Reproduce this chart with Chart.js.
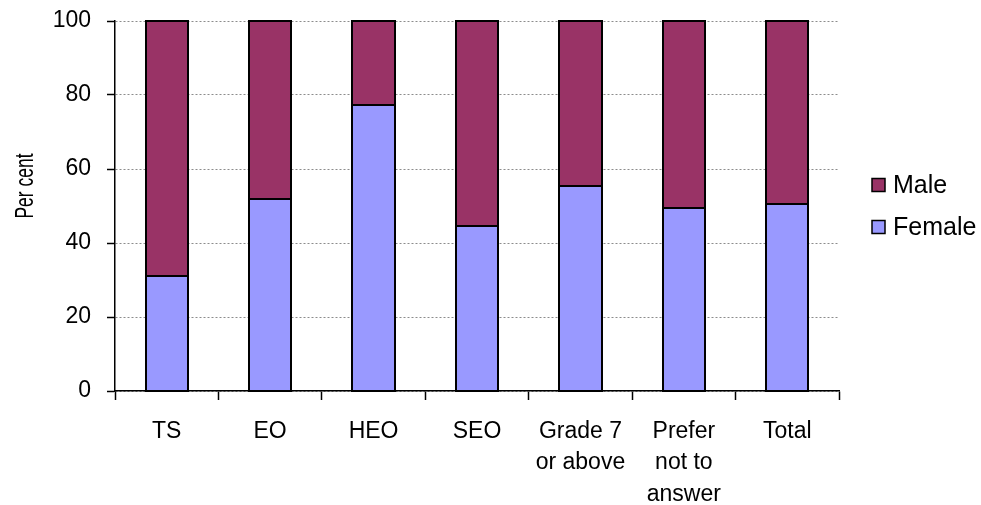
<!DOCTYPE html>
<html>
<head>
<meta charset="utf-8">
<script src="https://cdn.jsdelivr.net/npm/chart.js@4.4.0/dist/chart.umd.min.js"></script>
<style>
  html, body { margin: 0; padding: 0; background: #fff; }
  #wrap { width: 981px; height: 505px; position: relative; }
</style>
</head>
<body>
<div id="wrap"><canvas id="c"></canvas></div>
<script>
// Staff grade categories (multi-line labels as arrays)
const categories = ['TS', 'EO', 'HEO', 'SEO', ['Grade 7', 'or above'], ['Prefer', 'not to', 'answer'], 'Total'];
// Percentage of staff in each grade, by sex
const female = [31.1, 52.0, 77.4, 44.6, 55.4, 49.5, 50.5];
const male   = [68.9, 48.0, 22.6, 55.4, 44.6, 50.5, 49.5];
const seriesNames = ['Female', 'Male'];
const seriesColors = ['#9999FF', '#993366'];
const yTicks = [0, 20, 40, 60, 80, 100];
const yTitle = 'Per cent';

const FONT = '"Liberation Sans", Arial, sans-serif';
Chart.defaults.font.family = FONT;
Chart.defaults.color = '#000';

// Crisp black outline around every bar segment, taken from the bar elements
const barOutline = {
  id: 'barOutline',
  afterDatasetsDraw(chart) {
    const ctx = chart.ctx;
    ctx.save();
    ctx.strokeStyle = '#000';
    ctx.lineWidth = 2;
    chart.data.datasets.forEach((ds, i) => {
      chart.getDatasetMeta(i).data.forEach(bar => {
        const { x, y, base, width } = bar.getProps(['x', 'y', 'base', 'width'], true);
        const l = Math.round(x - width / 2), r = Math.round(x + width / 2);
        const t = Math.round(Math.min(y, base)), b = Math.round(Math.max(y, base));
        ctx.strokeRect(l, t, r - l, b - t);
      });
    });
    ctx.restore();
  }
};

// Legend to the right of the plot (Male above Female) and the rotated y-axis caption
const sideText = {
  id: 'sideText',
  afterDraw(chart) {
    const { ctx, chartArea } = chart;
    const mid = (chartArea.top + chartArea.bottom) / 2;
    const x = chartArea.right + 33;
    const order = [1, 0];
    ctx.save();
    ctx.font = '25px ' + FONT;
    ctx.textBaseline = 'middle';
    order.forEach((dsIndex, i) => {
      const ds = chart.data.datasets[dsIndex];
      const cy = mid - 21 + i * 42;
      ctx.fillStyle = ds.backgroundColor;
      ctx.fillRect(x, cy - 6.5, 13, 13);
      ctx.lineWidth = 1.5;
      ctx.strokeStyle = '#000';
      ctx.strokeRect(x, cy - 6.5, 13, 13);
      ctx.fillStyle = '#000';
      ctx.fillText(ds.label, x + 21, cy + 1);
    });
    // y-axis caption, condensed along its length
    ctx.translate(33, mid - 20);
    ctx.rotate(-Math.PI / 2);
    ctx.scale(0.7, 1);
    ctx.font = '25px ' + FONT;
    ctx.textAlign = 'center';
    ctx.textBaseline = 'alphabetic';
    ctx.fillText(yTitle, 0, 0);
    ctx.restore();
  }
};

const barStyle = {
  borderWidth: 0,
  categoryPercentage: 1,
  barPercentage: 0.41
};

new Chart(document.getElementById('c'), {
  type: 'bar',
  data: {
    labels: categories,
    datasets: [
      Object.assign({ label: seriesNames[0], data: female, backgroundColor: seriesColors[0] }, barStyle),
      Object.assign({ label: seriesNames[1], data: male, backgroundColor: seriesColors[1] }, barStyle)
    ]
  },
  options: {
    responsive: true,
    maintainAspectRatio: false,
    animation: false,
    layout: { padding: { top: 21, right: 142, bottom: 0, left: 0 } },
    plugins: { legend: { display: false }, tooltip: { enabled: false } },
    scales: {
      x: {
        stacked: true,
        afterFit: s => { s.height = 114; s.paddingLeft = 0; s.paddingRight = 0; },
        grid: {
          offset: true,
          drawOnChartArea: false,
          color: '#000',
          tickColor: '#000',
          tickLength: 9,
          tickWidth: 1.5
        },
        border: { color: '#000', width: 1.5 },
        ticks: {
          font: { size: 23, lineHeight: 1.36 },
          padding: 16,
          maxRotation: 0,
          autoSkip: false
        }
      },
      y: {
        stacked: true,
        min: 0,
        max: 100,
        afterFit: s => { s.width = 115; s.paddingTop = 0; s.paddingBottom = 0; },
        afterBuildTicks: s => { s.ticks = yTicks.map(v => ({ value: v })); },
        grid: {
          color: '#8c8c8c',
          lineWidth: 1,
          tickColor: '#000',
          tickLength: 8,
          tickWidth: 1.5
        },
        border: { color: '#000', width: 1.5, dash: [2, 2] },
        ticks: { font: { size: 23 }, padding: 16 }
      }
    }
  },
  plugins: [barOutline, sideText]
});
</script>
</body>
</html>
